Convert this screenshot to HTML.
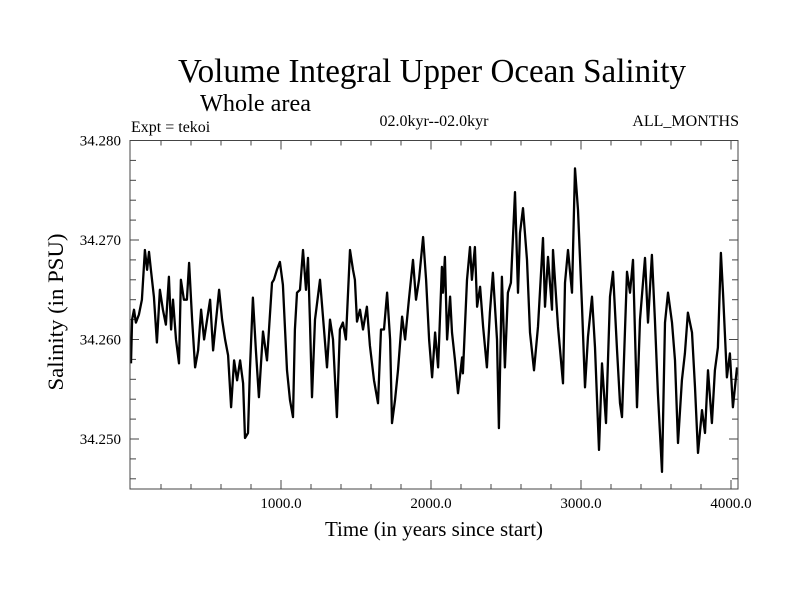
<!DOCTYPE html>
<html><head><meta charset="utf-8"><style>
body{margin:0;background:#fff;}
svg text{font-family:"Liberation Serif",serif;fill:#000;}
</style></head><body>
<svg width="800" height="600" xmlns="http://www.w3.org/2000/svg">
<rect width="800" height="600" fill="#fff"/>
<text x="432" y="82" font-size="34" text-anchor="middle" textLength="508" lengthAdjust="spacingAndGlyphs">Volume Integral Upper Ocean Salinity</text>
<text x="200" y="111" font-size="24" textLength="111" lengthAdjust="spacingAndGlyphs">Whole area</text>
<text x="131" y="132" font-size="16">Expt = tekoi</text>
<text x="434" y="126" font-size="16" text-anchor="middle">02.0kyr--02.0kyr</text>
<text x="739" y="126" font-size="16" text-anchor="end">ALL_MONTHS</text>
<text x="0" y="0" font-size="22" text-anchor="middle" transform="translate(63,312) rotate(-90)" textLength="157" lengthAdjust="spacingAndGlyphs">Salinity (in PSU)</text>
<text x="434" y="536" font-size="21" text-anchor="middle" textLength="218" lengthAdjust="spacingAndGlyphs">Time (in years since start)</text>
<g id="axes"></g>
<path id="series" fill="none" stroke="#000" stroke-width="2.3" stroke-linejoin="round"/>
<rect x="130" y="140.5" width="608" height="348.5" fill="none" stroke="#444" stroke-width="1"/>
</svg>
<script>
const years=[0,7,20,33,53,73,93,107,120,133,153,173,193,213,233,253,267,280,300,320,333,353,373,387,407,427,447,467,487,507,527,547,567,587,607,627,647,667,687,707,727,747,760,780,793,813,833,853,880,907,940,953,973,993,1013,1040,1060,1080,1093,1107,1127,1147,1167,1180,1193,1207,1227,1260,1287,1307,1327,1347,1373,1393,1413,1433,1460,1480,1493,1507,1527,1547,1573,1593,1620,1647,1667,1687,1707,1727,1740,1760,1780,1807,1827,1853,1880,1900,1920,1947,1967,1987,
2007,2027,2047,2073,2080,2093,2107,2127,2140,2160,2180,2207,2213,2240,2260,2273,2293,2307,2327,2347,2373,2393,2413,2440,2453,2473,2493,2513,2533,2560,2580,2593,2613,2640,2660,2687,2713,2747,2760,2780,2807,2813,2847,2880,2893,2913,2940,2960,2980,3007,3027,3047,3073,3093,3120,3140,3167,3193,3213,3240,3260,3273,3307,3327,3347,3373,3393,3427,3447,3473,3493,3513,3540,3560,3580,3607,3627,3647,3673,3693,3713,3740,3760,3780,3807,3827,3847,3873,3893,3913,3933,3947,3973,3993,4013,4040];
const salinity=[34.2576,34.2620,34.2630,34.2617,34.2625,34.2640,34.2690,34.2670,34.2688,34.2670,34.2643,34.2597,34.2650,34.2630,34.2615,34.2663,34.2610,34.2640,34.2600,34.2576,34.2660,34.2640,34.2640,34.2677,34.2620,34.2572,34.2589,34.2630,34.2600,34.2620,34.2640,34.2589,34.2620,34.2650,34.2620,34.2600,34.2584,34.2532,34.2579,34.2559,34.2579,34.2556,34.2501,34.2506,34.2569,34.2642,34.2589,34.2542,34.2608,34.2579,34.2657,34.2660,34.2670,34.2678,34.2655,34.2569,34.2539,34.2522,34.2610,34.2647,34.2650,34.2690,34.2650,34.2682,34.2620,34.2542,34.2620,34.2660,34.2610,34.2572,34.2620,34.2600,34.2522,34.2610,34.2617,34.2600,34.2690,34.2670,34.2660,34.2618,34.2630,34.2610,34.2633,34.2594,34.2559,34.2536,34.2610,34.2610,34.2647,34.2600,34.2516,34.2539,34.2569,34.2623,34.2600,34.2640,34.2680,34.2640,34.2660,34.2703,34.2660,34.2600,
34.2562,34.2607,34.2572,34.2673,34.2647,34.2683,34.2600,34.2643,34.2607,34.2579,34.2546,34.2582,34.2566,34.2660,34.2693,34.2660,34.2693,34.2633,34.2653,34.2613,34.2572,34.2627,34.2667,34.2600,34.2511,34.2663,34.2572,34.2647,34.2657,34.2748,34.2647,34.2707,34.2732,34.2680,34.2607,34.2569,34.2613,34.2702,34.2633,34.2683,34.2630,34.2690,34.2613,34.2556,34.2657,34.2690,34.2647,34.2772,34.2730,34.2633,34.2552,34.2603,34.2643,34.2592,34.2489,34.2576,34.2516,34.2643,34.2668,34.2590,34.2536,34.2522,34.2668,34.2647,34.2680,34.2532,34.2620,34.2682,34.2617,34.2685,34.2620,34.2546,34.2467,34.2617,34.2647,34.2617,34.2579,34.2496,34.2559,34.2586,34.2627,34.2607,34.2552,34.2486,34.2529,34.2506,34.2569,34.2516,34.2569,34.2592,34.2687,34.2647,34.2562,34.2586,34.2532,34.2572];
const xTickLabels=["1000.0","2000.0","3000.0","4000.0"];
const yTickLabels=["34.250","34.260","34.270","34.280"];
const X0=130,X1=738,Y0=140.5,Y1=489;
function xs(t){return 131+t*0.15;}
function ys(v){return Y0+(34.280-v)*9950;}
const NS="http://www.w3.org/2000/svg";
const g=document.getElementById('axes');
function line(x1,y1,x2,y2,name){const l=document.createElementNS(NS,'line');
l.setAttribute('x1',x1);l.setAttribute('y1',y1);l.setAttribute('x2',x2);l.setAttribute('y2',y2);
l.setAttribute('stroke','#444');l.setAttribute('stroke-width','1');


g.appendChild(l);}
for(let t=200;t<=4000;t+=200){const x=xs(t);const maj=t%1000===0;const L=maj?9:5;
line(x,Y1,x,Y1-L,'x-tick');line(x,Y0,x,Y0+L,'x-tick-top');}
for(let k=0;k<=17;k++){const v=34.246+k*0.002;const y=ys(v);if(y<Y0-0.5||y>Y1)continue;
const maj=Math.abs((v*1000)%10)<0.01||Math.abs((v*1000)%10-10)<0.01;const L=maj?9:6;
line(X0,y,X0+L,y,'y-tick');line(X1,y,X1-L,y,'y-tick-right');}
xTickLabels.forEach(s=>{const t=document.createElementNS(NS,'text');
t.setAttribute('x',xs(parseFloat(s)));t.setAttribute('y',508);t.setAttribute('font-size','15');t.setAttribute('text-anchor','middle');t.textContent=s;


g.appendChild(t);});
yTickLabels.forEach(s=>{const t=document.createElementNS(NS,'text');
t.setAttribute('x',121);t.setAttribute('y',ys(parseFloat(s))+5);t.setAttribute('font-size','15');t.setAttribute('text-anchor','end');t.textContent=s;


g.appendChild(t);});
let d='';years.forEach((t,i)=>{d+=(i?'L':'M')+Math.max(X0,Math.min(X1,xs(t))).toFixed(1)+','+ys(salinity[i]).toFixed(1);});
document.getElementById('series').setAttribute('d',d);
</script>
</body></html>
